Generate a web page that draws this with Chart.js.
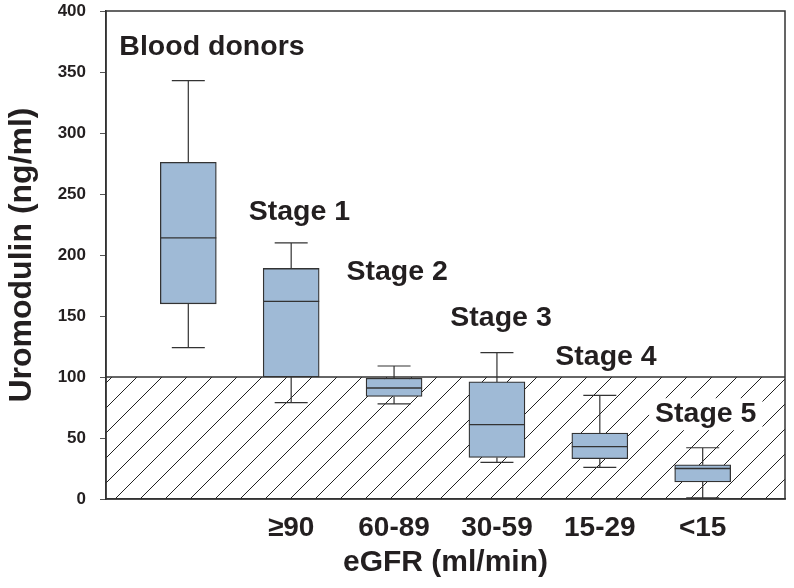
<!DOCTYPE html>
<html>
<head>
<meta charset="utf-8">
<script src="https://cdn.jsdelivr.net/npm/chart.js@4.4.0/dist/chart.umd.min.js"></script>
<style>
  html, body { margin: 0; padding: 0; background: #fff; }
  #wrap { width: 794px; height: 588px; }
</style>
</head>
<body>
<div id="wrap"><canvas id="chart" width="794" height="588"></canvas></div>
<script>
// categories (first one has no tick label)
const groups = ["Blood donors", "Stage 1", "Stage 2", "Stage 3", "Stage 4", "Stage 5"];
const egfrLabels = ["", "\u226590", "60-89", "30-59", "15-29", "<15"];

// box plot values (ng/ml)
const whiskerLow = [124, 79, 78, 30, 26, 1];
const q1 = [160, 100, 84, 34, 33, 14];
const median = [214, 162, 91, 61, 43, 25];
const q3 = [276, 189, 99, 96, 54, 28];
const whiskerHigh = [343, 210, 109, 120, 85, 42];

const yTicks = [0, 50, 100, 150, 200, 250, 300, 350, 400];
const threshold = 100; // hatched zone below this

// where the group names sit (data coords)
const noteX = [-0.67, 1.08, 2.03, 3.04, 4.06, 5.03];
const noteY = [370, 235, 186, 148, 116, 69.5];
const noteAlign = ["left", "center", "center", "center", "center", "center"];

const FONT = "'Liberation Sans', Arial, Helvetica, sans-serif";
const INK = "#231f20";
const LINE = "#333333";

const boxPlotExtras = {
  id: "boxPlotExtras",
  beforeDatasetsDraw(chart) {
    const { ctx, chartArea: a, scales: { x, y } } = chart;
    const yTop = y.getPixelForValue(threshold);
    const yBot = y.getPixelForValue(0);
    const h = yBot - yTop;

    // hatched zone
    ctx.save();
    ctx.beginPath();
    ctx.rect(a.left, yTop, a.right - a.left, h);
    ctx.clip();
    ctx.strokeStyle = "#222";
    ctx.lineWidth = 1;
    for (let x0 = a.left + 9 - 25 * 6; x0 < a.right + 25; x0 += 25) {
      ctx.beginPath();
      ctx.moveTo(x0, yBot);
      ctx.lineTo(x0 + h, yTop);
      ctx.stroke();
    }
    ctx.restore();

    ctx.save();
    ctx.strokeStyle = LINE;
    ctx.lineWidth = 1.3;
    ctx.beginPath();
    ctx.moveTo(a.left, yTop);
    ctx.lineTo(a.right, yTop);
    ctx.stroke();

    // whiskers + caps
    ctx.lineWidth = 1.2;
    const cap = 16.5;
    groups.forEach((g, i) => {
      const cx = x.getPixelForValue(i);
      const segs = [[q3[i], whiskerHigh[i]], [q1[i], whiskerLow[i]]];
      segs.forEach(([from, to]) => {
        const py = y.getPixelForValue(to);
        ctx.beginPath();
        ctx.moveTo(cx, y.getPixelForValue(from));
        ctx.lineTo(cx, py);
        ctx.moveTo(cx - cap, py);
        ctx.lineTo(cx + cap, py);
        ctx.stroke();
      });
    });

    // group names
    ctx.font = "bold 28.5px " + FONT;
    ctx.textBaseline = "middle";
    groups.forEach((g, i) => {
      const px = x.getPixelForValue(noteX[i]);
      const py = y.getPixelForValue(noteY[i]);
      ctx.textAlign = noteAlign[i];
      if (noteY[i] < threshold) {
        const w = ctx.measureText(g).width;
        ctx.fillStyle = "#fff";
        ctx.fillRect(px - w / 2 - 6, py - 16, w + 12, 32);
      }
      ctx.fillStyle = INK;
      ctx.fillText(g, px, py);
    });
    ctx.restore();
  },
  afterDatasetsDraw(chart) {
    const { ctx, chartArea: a, scales: { x, y } } = chart;
    ctx.save();
    ctx.strokeStyle = LINE;
    ctx.lineWidth = 1.3;
    const half = 28;
    median.forEach((m, i) => {
      const cx = x.getPixelForValue(i);
      const py = y.getPixelForValue(m);
      ctx.beginPath();
      ctx.moveTo(cx - half, py);
      ctx.lineTo(cx + half, py);
      ctx.stroke();
    });
    ctx.lineWidth = 1.5;
    ctx.strokeRect(a.left, a.top, a.right - a.left, a.bottom - a.top);
    ctx.restore();
  },
};

const boxes = groups.map((g, i) => ({ x: i, y: [q1[i], q3[i]] }));

new Chart(document.getElementById("chart"), {
  type: "bar",
  data: {
    datasets: [
      {
        label: "IQR",
        data: boxes,
        backgroundColor: "#9fbad6",
        borderColor: LINE,
        borderWidth: 1.3,
        borderSkipped: false,
        barThickness: 56,
      },
    ],
  },
  options: {
    responsive: false,
    animation: false,
    layout: { padding: { top: 11, right: 9, left: 0, bottom: 0 } },
    plugins: {
      legend: { display: false },
      tooltip: { enabled: false },
    },
    scales: {
      x: {
        type: "linear",
        offset: false,
        min: -0.8,
        max: 5.8,
        afterBuildTicks: (scale) => {
          scale.ticks = egfrLabels.map((l, i) => ({ value: i }));
        },
        afterFit: (scale) => {
          scale.height = 89;
          scale.paddingLeft = 0;
          scale.paddingRight = 0;
        },
        grid: { display: false, offset: false },
        border: { display: true, color: LINE, width: 1.5 },
        ticks: {
          callback: (v) => egfrLabels[v] ?? "",
          font: { family: FONT, size: 28, weight: "bold" },
          color: INK,
          padding: 4,
          maxRotation: 0,
          autoSkip: false,
        },
        title: {
          display: true,
          text: "eGFR (ml/min)",
          font: { family: FONT, size: 30, weight: "bold" },
          color: INK,
          padding: { top: 0, bottom: 7 },
        },
      },
      y: {
        min: 0,
        max: 400,
        afterBuildTicks: (scale) => {
          scale.ticks = yTicks.map((v) => ({ value: v }));
        },
        afterFit: (scale) => {
          scale.width = 106;
          scale.paddingTop = 0;
          scale.paddingBottom = 0;
        },
        grid: {
          drawOnChartArea: false,
          drawTicks: true,
          tickLength: 6,
          color: "#555",
        },
        border: { display: true, color: LINE, width: 1.5 },
        ticks: {
          font: { family: FONT, size: 17, weight: "bold" },
          color: INK,
          padding: 14,
        },
        title: {
          display: true,
          text: "Uromodulin (ng/ml)",
          font: { family: FONT, size: 32, weight: "bold" },
          color: INK,
          padding: { top: 3, bottom: 0 },
        },
      },
    },
  },
  plugins: [boxPlotExtras],
});
</script>
</body>
</html>
